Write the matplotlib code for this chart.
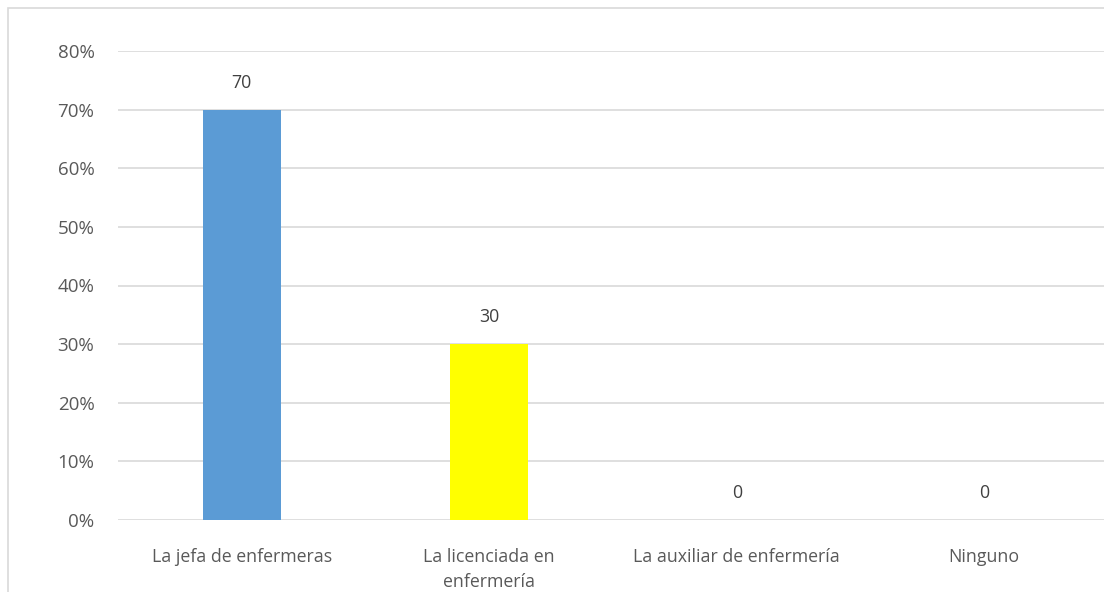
import matplotlib
matplotlib.use("Agg")
import matplotlib.pyplot as plt
from matplotlib.patches import Rectangle
from matplotlib.ticker import PercentFormatter

categories = ["La jefa de enfermeras", "La licenciada en\nenfermería",
              "La auxiliar de enfermería", "Ninguno"]
values = [70, 30, 0, 0]
colors = ["#5b9bd5", "#ffff00", "#a5a5a5", "#ffc000"]
yticks = [0, 10, 20, 30, 40, 50, 60, 70, 80]

text_color = "#595959"
plt.rcParams["font.family"] = ["Open Sans", "DejaVu Sans"]

W, H = 1104, 592
fig = plt.figure(figsize=(W / 100, H / 100), dpi=100)

# chart border (cropped at right/bottom in the reference)
fig.patches.append(Rectangle((8 / W, -0.1), 1.2, 1.1 - 8 / H,
                             transform=fig.transFigure, fill=False,
                             edgecolor="#d9d9d9", linewidth=1.2))

ax = fig.add_axes([118 / W, 72 / H, 990 / W, 469 / H])
x = list(range(len(categories)))
ax.bar(x, values, width=0.315, color=colors, zorder=3)

for xi, v in zip(x, values):
    ax.text(xi, v + 4.6, str(v), ha="center", va="center",
            fontsize=12.8, color="#404040")

ax.set_xlim(-0.5, len(categories) - 0.5)
ax.set_ylim(0, 80)
ax.set_yticks(yticks)
ax.yaxis.set_major_formatter(PercentFormatter(decimals=0))
ax.set_xticks(x)
ax.set_xticklabels(categories, linespacing=1.5)
ax.tick_params(axis="both", length=0, labelsize=12.8, labelcolor=text_color)
ax.tick_params(axis="y", labelsize=13.5, pad=17)
ax.tick_params(axis="x", pad=20)
ax.grid(axis="y", color="#d9d9d9", linewidth=1.2, zorder=0)
for s in ax.spines.values():
    s.set_visible(False)

fig.savefig("out.png", dpi=100)
